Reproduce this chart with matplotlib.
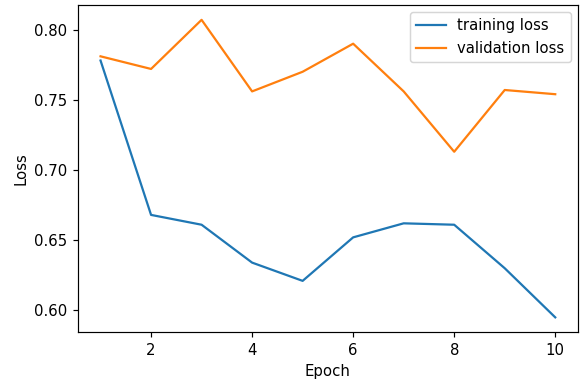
import matplotlib
matplotlib.use('Agg')
import matplotlib.pyplot as plt

epochs = [1, 2, 3, 4, 5, 6, 7, 8, 9, 10]
train_loss = [0.778, 0.668, 0.661, 0.634, 0.621, 0.652, 0.662, 0.661, 0.630, 0.595]
val_loss = [0.781, 0.772, 0.807, 0.756, 0.770, 0.790, 0.756, 0.713, 0.757, 0.754]

# figure is a bit "zoomed" compared to default, so use a higher dpi
dpi = 107
fig, ax = plt.subplots(figsize=(585 / dpi, 381 / dpi), dpi=dpi)
ax.plot(epochs, train_loss, label='training loss')
ax.plot(epochs, val_loss, label='validation loss')
ax.set_xlabel('Epoch')
ax.set_ylabel('Loss')
ax.legend()
fig.subplots_adjust(left=0.133, right=0.988, top=0.987, bottom=0.128)
fig.savefig('out.png', dpi=dpi)
